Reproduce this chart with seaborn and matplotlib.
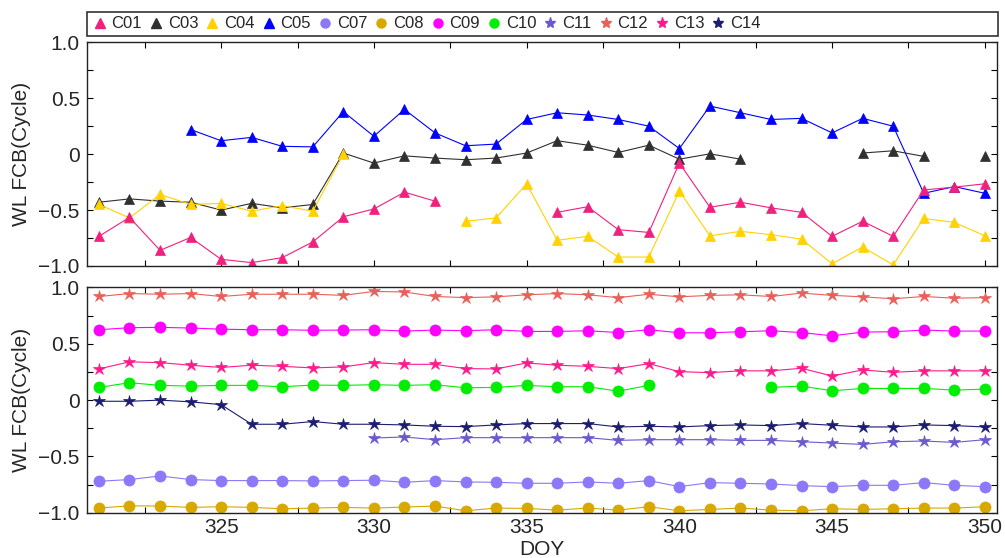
import numpy as np
import pandas as pd
import matplotlib
matplotlib.use("Agg")
import matplotlib.pyplot as plt
import seaborn as sns
from matplotlib.lines import Line2D
from matplotlib.patches import Rectangle
from matplotlib.ticker import MultipleLocator

nan = np.nan

days = [321, 322, 323, 324, 325, 326, 327, 328, 329, 330,
        331, 332, 333, 334, 335, 336, 337, 338, 339, 340,
        341, 342, 343, 344, 345, 346, 347, 348, 349, 350]

# ---- top panel (triangles) ----
C01 = [-0.735, -0.565, -0.86, -0.745, -0.94, -0.97, -0.925, -0.785, -0.56, -0.49,
       -0.34, -0.42, nan, nan, nan, -0.52, -0.47, -0.675, -0.70, -0.08,
       -0.475, -0.43, -0.48, -0.52, -0.735, -0.60, -0.735, -0.32, -0.295, -0.265]
C03 = [-0.43, -0.40, -0.42, -0.43, -0.50, -0.44, -0.48, -0.45, 0.01, -0.08,
       -0.015, -0.035, -0.05, -0.035, 0.01, 0.12, 0.08, 0.015, 0.08, -0.045,
       0.003, -0.045, nan, nan, nan, 0.01, 0.03, -0.02, nan, -0.015]
C04 = [-0.45, -0.57, -0.36, -0.45, -0.44, -0.51, -0.46, -0.51, 0.0, nan,
       nan, nan, -0.60, -0.57, -0.265, -0.77, -0.735, -0.92, -0.92, -0.33,
       -0.73, -0.69, -0.72, -0.76, -0.98, -0.83, -0.99, -0.575, -0.61, -0.73]
C05 = [nan, nan, nan, 0.22, 0.12, 0.15, 0.07, 0.065, 0.38, 0.16,
       0.40, 0.19, 0.075, 0.09, 0.31, 0.37, 0.35, 0.31, 0.25, 0.05,
       0.43, 0.37, 0.31, 0.32, 0.19, 0.32, 0.25, -0.35, -0.29, -0.35]

# ---- bottom panel (circles and stars) ----
C07 = [-0.72, -0.705, -0.673, -0.705, -0.714, -0.714, -0.714, -0.717, -0.714, -0.711,
       -0.729, -0.714, -0.726, -0.729, -0.738, -0.738, -0.726, -0.738, -0.714, -0.768,
       -0.732, -0.738, -0.744, -0.759, -0.768, -0.756, -0.756, -0.732, -0.756, -0.768]
C08 = [-0.958, -0.9375, -0.94, -0.952, -0.946, -0.952, -0.964, -0.958, -0.952, -0.958,
       -0.949, -0.94, -0.982, -0.958, -0.961, -0.976, -0.958, -0.976, -0.946, -0.982,
       -0.97, -0.958, -0.976, -0.982, -0.964, -0.97, -0.964, -0.958, -0.958, -0.946]
C09 = [0.625, 0.643, 0.646, 0.64, 0.63, 0.625, 0.625, 0.62, 0.622, 0.625,
       0.613, 0.622, 0.616, 0.625, 0.61, 0.61, 0.616, 0.60, 0.625, 0.598,
       0.598, 0.607, 0.616, 0.60, 0.571, 0.604, 0.607, 0.622, 0.613, 0.613]
C10 = [0.113, 0.155, 0.131, 0.125, 0.131, 0.131, 0.119, 0.134, 0.131, 0.137,
       0.131, 0.137, 0.11, 0.113, 0.131, 0.119, 0.119, 0.08, 0.131, nan,
       nan, nan, 0.113, 0.125, 0.083, 0.104, 0.104, 0.104, 0.089, 0.098]
C11 = [nan, nan, nan, nan, nan, nan, nan, nan, nan, -0.336,
       -0.327, -0.351, -0.333, -0.333, -0.333, -0.333, -0.333, -0.357, -0.351, -0.351,
       -0.351, -0.357, -0.357, -0.369, -0.381, -0.393, -0.369, -0.363, -0.375, -0.351]
C12 = [0.92, 0.946, 0.94, 0.946, 0.92, 0.94, 0.94, 0.94, 0.93, 0.965,
       0.96, 0.92, 0.91, 0.917, 0.935, 0.946, 0.935, 0.91, 0.94, 0.917,
       0.93, 0.935, 0.92, 0.95, 0.93, 0.917, 0.90, 0.92, 0.905, 0.91]
C13 = [0.277, 0.34, 0.333, 0.31, 0.29, 0.31, 0.30, 0.286, 0.295, 0.333,
       0.318, 0.318, 0.28, 0.277, 0.33, 0.31, 0.30, 0.28, 0.324, 0.253,
       0.244, 0.26, 0.26, 0.283, 0.214, 0.268, 0.247, 0.26, 0.26, 0.26]
C14 = [-0.01, -0.01, 0.0, -0.015, -0.04, -0.214, -0.214, -0.19, -0.214, -0.214,
       -0.22, -0.232, -0.235, -0.22, -0.208, -0.208, -0.208, -0.238, -0.232, -0.238,
       -0.226, -0.22, -0.226, -0.208, -0.223, -0.238, -0.238, -0.22, -0.226, -0.238]

series = {"C01": C01, "C03": C03, "C04": C04, "C05": C05,
          "C07": C07, "C08": C08, "C09": C09, "C10": C10,
          "C11": C11, "C12": C12, "C13": C13, "C14": C14}
top_names = ["C05", "C03", "C04", "C01"]
bottom_names = ["C08", "C07", "C11", "C14", "C10", "C13", "C09", "C12"]
legend_names = ["C01", "C03", "C04", "C05", "C07", "C08", "C09", "C10",
                "C11", "C12", "C13", "C14"]

colors = {"C01": "#F0207F", "C03": "#303030", "C04": "#FFD200", "C05": "#0000FF",
          "C07": "#8C78F8", "C08": "#D8A800", "C09": "#FF00FF", "C10": "#00EE00",
          "C11": "#6A5ACD", "C12": "#E8605A", "C13": "#FF1A8C", "C14": "#1C1C70"}
markers = {"C01": "^", "C03": "^", "C04": "^", "C05": "^",
           "C07": "o", "C08": "o", "C09": "o", "C10": "o",
           "C11": "*", "C12": "*", "C13": "*", "C14": "*"}
msizes = {"^": 7.5, "o": 8.0, "*": 9.0}

xticks = [325, 330, 335, 340, 345, 350]
xtick_labels = ["325", "330", "335", "340", "345", "350"]
yticks = [-1.0, -0.5, 0.0, 0.5, 1.0]
ytick_labels = ["\u22121.0", "\u22120.5", "0", "0.5", "1.0"]

sns.set_style("ticks")
plt.rcParams["font.family"] = ["Liberation Sans", "DejaVu Sans"]

fig = plt.figure(figsize=(10.05, 5.58), dpi=100)
ax1 = fig.add_axes([0.0863, 0.5233, 0.9058, 0.4009])
ax2 = fig.add_axes([0.0863, 0.0810, 0.9058, 0.4038])


def draw(ax, names):
    for name in names:
        df = pd.DataFrame({"DOY": days, "val": series[name]})
        df["seg"] = df["val"].isna().cumsum()
        df = df.dropna()
        m = markers[name]
        sns.lineplot(data=df, x="DOY", y="val", units="seg", estimator=None,
                     ax=ax, color=colors[name], marker=m, markersize=msizes[m],
                     markeredgecolor=colors[name], markeredgewidth=0.5,
                     linewidth=0.8, legend=False)


draw(ax1, top_names)
draw(ax2, bottom_names)

for ax in (ax1, ax2):
    ax.set_xlim(320.6, 350.4)
    ax.set_ylim(-1, 1)
    ax.set_xticks(xticks)
    ax.set_yticks(yticks)
    ax.set_yticklabels(ytick_labels)
    ax.xaxis.set_minor_locator(MultipleLocator(2.5))
    ax.yaxis.set_minor_locator(MultipleLocator(0.25))
    ax.tick_params(which="both", direction="in", top=True, right=True,
                   length=4, width=0.8, color="black", labelsize=15, pad=5)
    for sp in ax.spines.values():
        sp.set_linewidth(1.0)
        sp.set_color("#222222")
    ax.set_ylabel("WL FCB(Cycle)", fontsize=15, labelpad=5)

ax1.set_xticklabels([])
ax1.set_xlabel("")
ax2.set_xticklabels(xtick_labels)
ax2.tick_params(axis="x", pad=4)
ax2.set_xlabel("DOY", fontsize=15, labelpad=2)

# legend box across the top
fig.add_artist(Rectangle((0.0863, 1 - 36 / 558), 0.9068, 24 / 558,
                         transform=fig.transFigure, fill=False,
                         edgecolor="#333333", linewidth=1.2))
handles = [Line2D([], [], linestyle="None", marker=markers[n], color=colors[n],
                  markersize=6.5 if markers[n] != "*" else 8) for n in legend_names]
fig.legend(handles, legend_names, loc="center left",
           bbox_to_anchor=(0.0925, 1 - 24 / 558), ncol=12, frameon=False,
           fontsize=12, handlelength=0.8, handletextpad=0.3, columnspacing=0.45,
           borderaxespad=0, borderpad=0)

fig.savefig("out.png", dpi=100)
